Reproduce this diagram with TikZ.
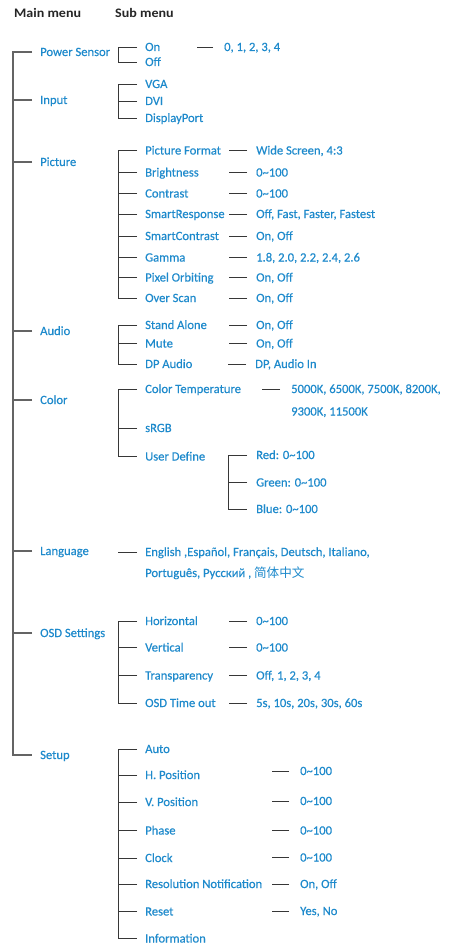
\documentclass[tikz,border=0pt]{standalone}
\usepackage{fontspec}
\setmainfont{Carlito}
\newfontfamily\bodyfont{Carlito}[FakeBold=0.35]
\newfontfamily\headfont{Carlito}[FakeStretch=1.08]
\newfontfamily\cjk{Noto Sans CJK SC}
\definecolor{menublue}{RGB}{30,138,204}
\definecolor{linegray}{RGB}{55,55,55}
\definecolor{trunkgray}{RGB}{100,100,100}
\newcommand\stubL[3]{\draw[ln] ([xshift=-#2pt]#1.west) -- ++(-#3,0);}
\newcommand\brk[2]{\draw[ln] ([xshift=-8pt]#1.west) -- ++(-19,0) |- ([xshift=-8pt]#2.west);}
\begin{document}
\begin{tikzpicture}[x=1pt,y=-1pt,
  txt/.style={anchor=west,inner sep=0pt,text height=8pt,text depth=0pt,font=\bodyfont\fontsize{12.6}{14}\selectfont,text=menublue},
  head/.style={anchor=west,inner sep=0pt,text height=8pt,text depth=0pt,font=\headfont\fontsize{13}{15}\selectfont\bfseries,text=black!85},
  ln/.style={draw=linegray,line width=0.85pt},
  trunk/.style={draw=trunkgray,line width=1.2pt}]
\useasboundingbox[fill=white] (0,0) rectangle (448,944);
\node[head] (mm) at (14,14) {Main menu};
\node[head] (sm) at (115,14) {Sub menu};
% main items
\node[txt] (ps) at (40,52) {Power Sensor};
\node[txt] (inp) at (40,100) {Input};
\node[txt] (pic) at (40,162) {Picture};
\node[txt] (aud) at (40,331) {Audio};
\node[txt] (col) at (40,400) {Color};
\node[txt] (lang) at (40,551) {Language};
\node[txt] (osd) at (40,633) {OSD Settings};
\node[txt] (setup) at (40,755) {Setup};
\draw[trunk] ([xshift=-8pt]ps.west) -- ++(-19,0) |- ([xshift=-8pt]setup.west);
\foreach \n in {inp,pic,aud,col,lang,osd} {\draw[trunk] ([xshift=-8pt]\n.west) -- ++(-19,0);}
% power sensor
\node[txt] (on) at (145,47) {On};
\node[txt] (off) at (145,62) {Off};
\brk{on}{off}
\node[txt] (onv) at (224,47) {0, 1, 2, 3, 4};
\stubL{onv}{11}{16}
% input
\node[txt] (vga) at (145,84) {VGA};
\node[txt] (dvi) at (145,101) {DVI};
\node[txt] (dp) at (145,118) {DisplayPort};
\brk{vga}{dp}
\stubL{dvi}{8}{19}
% picture
\node[txt] (pf) at (145,150.5) {Picture Format};
\node[txt] (br) at (145,172.5) {Brightness};
\node[txt] (co) at (145,193.5) {Contrast};
\node[txt] (sr) at (145,214) {SmartResponse};
\node[txt] (sc) at (145,236) {SmartContrast};
\node[txt] (ga) at (145,257.5) {Gamma};
\node[txt] (po) at (145,277.5) {Pixel Orbiting};
\node[txt] (os) at (145,298) {Over Scan};
\brk{pf}{os}
\foreach \n in {br,co,sr,sc,ga,po} {\stubL{\n}{8}{19}}
\node[txt] (pfv) at (256,150.5) {Wide Screen, 4:3};
\node[txt] (brv) at (256,172.5) {0\char`~100};
\node[txt] (cov) at (256,193.5) {0\char`~100};
\node[txt] (srv) at (256,214) {Off, Fast, Faster, Fastest};
\node[txt] (scv) at (256,236) {On, Off};
\node[txt] (gav) at (256,257.5) {1.8, 2.0, 2.2, 2.4, 2.6};
\node[txt] (pov) at (256,277.5) {On, Off};
\node[txt] (osv) at (256,298) {On, Off};
\foreach \n in {pfv,brv,cov,srv,scv,gav,pov,osv} {\stubL{\n}{9}{18}}
% audio
\node[txt] (sa) at (145,325) {Stand Alone};
\node[txt] (mu) at (145,343.5) {Mute};
\node[txt] (da) at (145,364) {DP Audio};
\brk{sa}{da}
\stubL{mu}{8}{19}
\node[txt] (sav) at (256,325) {On, Off};
\node[txt] (muv) at (256,343.5) {On, Off};
\node[txt] (dav) at (255,364) {DP, Audio In};
\foreach \n in {sav,muv,dav} {\stubL{\n}{9}{18}}
% color
\node[txt] (ct) at (145,389) {Color Temperature};
\node[txt] (srgb) at (145,428) {sRGB};
\node[txt] (ud) at (145,456.5) {User Define};
\brk{ct}{ud}
\stubL{srgb}{8}{19}
\node[txt] (ctv) at (291,389) {5000K, 6500K, 7500K, 8200K,};
\node[txt] (ctv2) at (291,411.5) {9300K, 11500K};
\stubL{ctv}{11}{18}
\node[txt] (red) at (256,455) {Red: 0\char`~100};
\node[txt] (green) at (256,482.5) {Green: 0\char`~100};
\node[txt] (blue) at (256,509) {Blue: 0\char`~100};
\draw[ln] ([xshift=-9pt]red.west) -- ++(-19,0) |- ([xshift=-9pt]blue.west);
\stubL{green}{9}{19}
% language
\node[txt] (l1) at (145,552) {English ,Español, Français, Deutsch, Italiano,};
\node[txt] (l2) at (145,573) {Português, Pусский , {\cjk 简体中文}};
\stubL{l1}{8}{19}
% OSD
\node[txt] (ho) at (145,621) {Horizontal};
\node[txt] (ve) at (145,647.5) {Vertical};
\node[txt] (tr) at (145,675.5) {Transparency};
\node[txt] (ot) at (145,703) {OSD Time out};
\brk{ho}{ot}
\foreach \n in {ve,tr} {\stubL{\n}{8}{19}}
\node[txt] (hov) at (256,621) {0\char`~100};
\node[txt] (vev) at (256,647.5) {0\char`~100};
\node[txt] (trv) at (256,675.5) {Off, 1, 2, 3, 4};
\node[txt] (otv) at (256,703) {5s, 10s, 20s, 30s, 60s};
\foreach \n in {hov,vev,trv,otv} {\stubL{\n}{9}{18}}
% setup
\node[txt] (au) at (145,749) {Auto};
\node[txt] (hp) at (145,775) {H. Position};
\node[txt] (vp) at (145,802) {V. Position};
\node[txt] (ph) at (145,830.5) {Phase};
\node[txt] (cl) at (145,858) {Clock};
\node[txt] (rn) at (145,884) {Resolution Notification};
\node[txt] (rs) at (145,911.5) {Reset};
\node[txt] (inf) at (145,938.5) {Information};
\brk{au}{inf}
\foreach \n in {hp,vp,ph,cl,rn,rs} {\stubL{\n}{8}{19}}
\node[txt] (hpv) at (300,771) {0\char`~100};
\node[txt] (vpv) at (300,801) {0\char`~100};
\node[txt] (phv) at (300,830.5) {0\char`~100};
\node[txt] (clv) at (300,857.5) {0\char`~100};
\node[txt] (rnv) at (300,884) {On, Off};
\node[txt] (rsv) at (300,911) {Yes, No};
\foreach \n in {hpv,vpv,phv,clv,rnv,rsv} {\stubL{\n}{11}{17}}
\end{tikzpicture}
\end{document}
